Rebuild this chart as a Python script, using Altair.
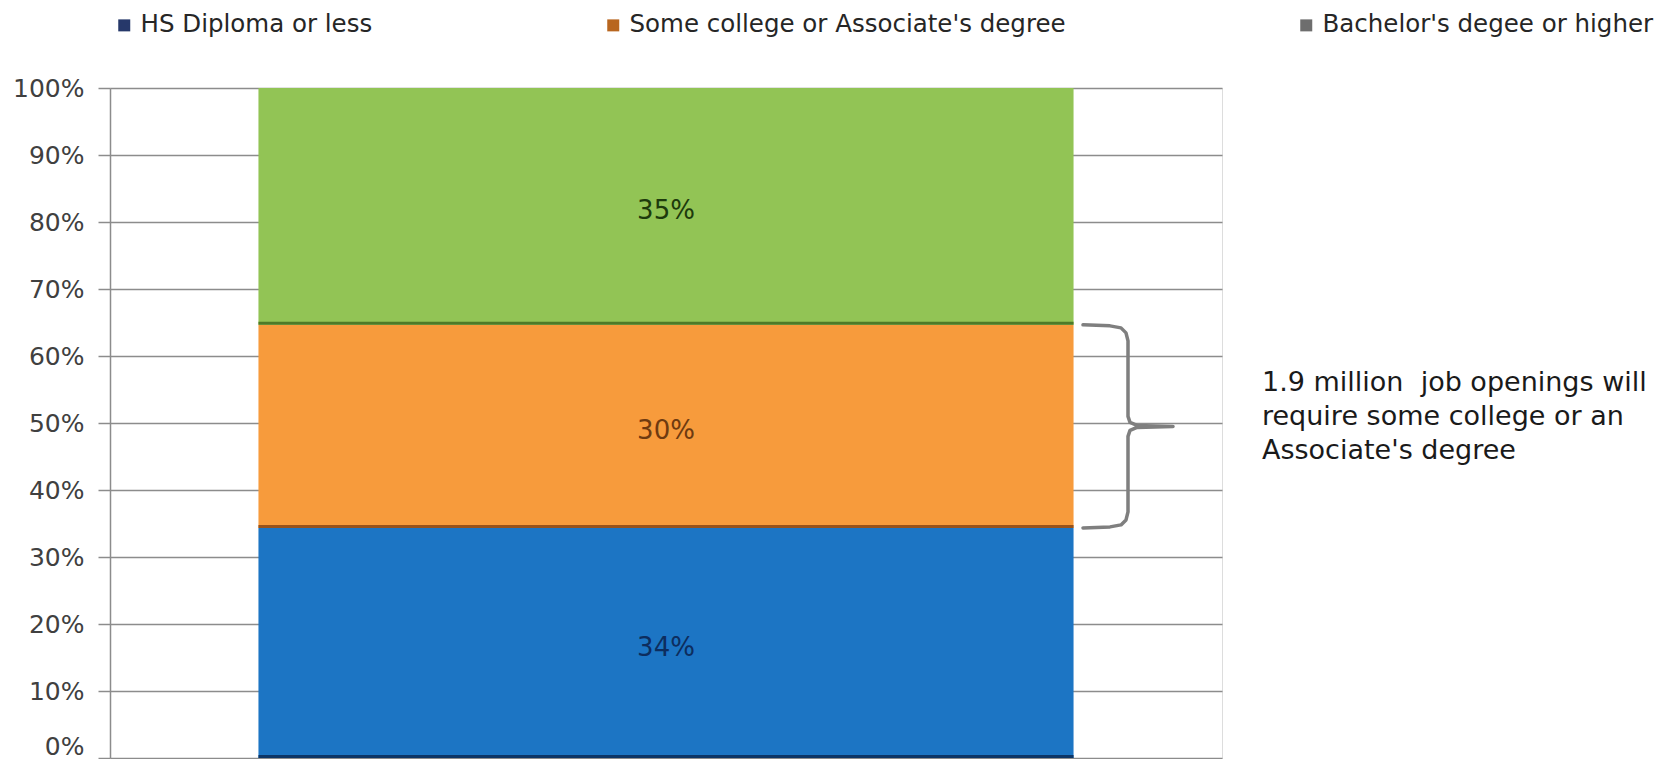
import altair as alt
import pandas as pd

# ---- data ----
categories = ["HS Diploma or less", "Some college or Associate's degree", "Bachelor's degee or higher"]
shares = [34, 30, 35]
group = ["all", "all", "all"]
y_ticks = [0, 0.1, 0.2, 0.3, 0.4, 0.5, 0.6, 0.7, 0.8, 0.9, 1.0]
note_lines = ["1.9 million\u00a0 job openings will", "require some college or an", "Associate's degree"]

# ---- styles ----
bar_colors = ["#1c75c4", "#f79b3c", "#92c455"]
edge_colors = ["#0c3566", "#98521a", "#4d7a28"]
legend_colors = ["#26386a", "#b8661f", "#6e6e6e"]
label_colors = ["#0d2d5e", "#6e3a10", "#1d3a0c"]
W, H = 1112, 670

df = pd.DataFrame({"cat": categories, "share": shares, "order": list(range(len(shares))), "group": group})

# orange segment bounds (normalised stack) for the brace + note
total = sum(shares)
lo = shares[0] / total
hi = (shares[0] + shares[1]) / total
mid = (lo + hi) / 2

brace_pts = [
    (973, hi, 0), (1000, hi, 1), (1011, hi, 3), (1016, hi, 8), (1018, hi, 16),
    (1018, mid, -10), (1020, mid, -4), (1027, mid, -1), (1063, mid, 0),
    (1027, mid, 1), (1020, mid, 4), (1018, mid, 10),
    (1018, lo, -16), (1016, lo, -8), (1011, lo, -3), (1000, lo, -1), (973, lo, 0),
]
brace_df = pd.DataFrame({
    "bx": [p[0] for p in brace_pts],
    "by": [p[1] - p[2] / H for p in brace_pts],
    "idx": list(range(len(brace_pts))),
})
note_df = pd.DataFrame({"tx": [1152], "ty": [mid]})

yscale = alt.Scale(domain=[0, 1], nice=False)
xenc = alt.X("group:N", axis=None, scale=alt.Scale(paddingInner=0, paddingOuter=0))

base = alt.Chart(df).transform_stack(
    stack="share", groupby=["group"], as_=["y0", "y1"], offset="normalize",
    sort=[alt.SortField("order", order="ascending")],
).transform_calculate(
    ymid="(datum.y0 + datum.y1) / 2",
    yb="datum.y0 + 0.0045",
    label="datum.share + '%'",
)

bars = base.mark_bar(width=alt.RelativeBandSize(0.733)).encode(
    x=xenc,
    y=alt.Y("y0:Q", scale=yscale, title=None, axis=alt.Axis(
        values=y_ticks, format=".0%", labelFont="DejaVu Sans", labelFontSize=25,
        labelColor="#404040", labelPadding=14, tickSize=12, tickColor="#8c8c8c",
        tickWidth=1.5, domainColor="#8c8c8c", domainWidth=1.5, gridColor="#8c8c8c",
        gridWidth=1.5, grid=True, title=None,
        labelOffset={"condition": {"test": "datum.value === 0", "value": -12}, "value": 0})),
    y2="y1:Q",
    color=alt.Color("cat:N", scale=alt.Scale(domain=categories, range=bar_colors), legend=None),
)

edges = base.mark_bar(width=alt.RelativeBandSize(0.733)).encode(
    x=xenc,
    y=alt.Y("y0:Q", scale=yscale),
    y2="yb:Q",
    color=alt.Color("cat:N", scale=alt.Scale(domain=categories, range=edge_colors), legend=None),
)

labels = base.mark_text(font="DejaVu Sans", fontSize=26, baseline="middle", align="center", dy=5).encode(
    x=xenc,
    y=alt.Y("ymid:Q", scale=yscale),
    text="label:N",
    color=alt.Color("cat:N", scale=alt.Scale(domain=categories, range=label_colors), legend=None),
)

legend_layer = base.mark_square(opacity=0, size=1).encode(
    x=xenc,
    y=alt.Y("ymid:Q", scale=yscale),
    color=alt.Color("cat:N", scale=alt.Scale(domain=categories, range=legend_colors),
                    legend=alt.Legend(orient="none", legendX=2, legendY=-75, direction="horizontal",
                                      title=None, labelFont="DejaVu Sans", labelFontSize=24.5,
                                      labelColor="#262626", symbolType="square", symbolSize=144,
                                      symbolStrokeWidth=0, symbolOpacity=1, labelOffset=4,
                                      columnPadding=228, padding=0, labelLimit=700)),
)

brace = alt.Chart(brace_df).mark_line(color="#7f7f7f", strokeWidth=3.5, strokeJoin="round",
                                      strokeCap="round", clip=False).encode(
    x=alt.X("bx:Q", scale=None, axis=None),
    y=alt.Y("by:Q", scale=yscale),
    order="idx:Q",
)

note = alt.Chart(note_df).mark_text(text=note_lines, align="left", baseline="middle", dy=-43,
                                    font="DejaVu Sans", fontSize=27, lineHeight=34,
                                    color="#1a1a1a").encode(
    x=alt.X("tx:Q", scale=None, axis=None),
    y=alt.Y("ty:Q", scale=yscale),
)

chart = alt.layer(bars, edges, labels, legend_layer, brace, note).resolve_scale(
    x="independent", color="independent"
).properties(
    width=W, height=H,
    autosize=alt.AutoSizeParams(type="none"),
    padding={"left": 102, "top": 80, "right": 437, "bottom": 1},
).configure_view(stroke=None).configure(background="white")

chart.save("out.html", embed_options={"renderer": "svg", "actions": False})
